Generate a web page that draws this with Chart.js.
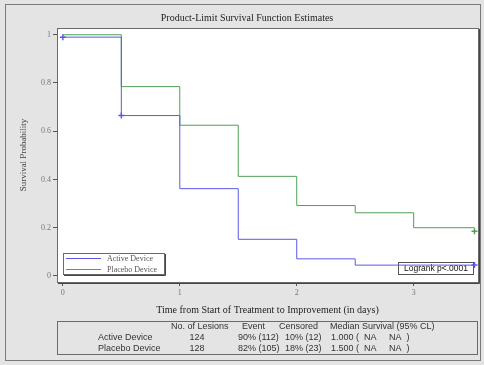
<!DOCTYPE html>
<html>
<head>
<meta charset="utf-8">
<script src="https://cdn.jsdelivr.net/npm/chart.js@4/dist/chart.umd.min.js"></script>
<style>
  html, body { margin: 0; padding: 0; background: #e4e4e4; }
  #wrap { width: 484px; height: 365px; }
</style>
</head>
<body>
<div id="wrap"><canvas id="km" width="484" height="365"></canvas></div>
<script>
// données
var groupNames = ['Active Device', 'Placebo Device'];
var activeTimes = [0, 0.5, 1, 1.5, 2, 2.5, 3.52];
var activeSurv = [0.99, 0.665, 0.362, 0.152, 0.071, 0.045, 0.045];
var placeboTimes = [0, 0.5, 1, 1.5, 2, 2.5, 3, 3.52];
var placeboSurv = [1.0, 0.785, 0.625, 0.413, 0.292, 0.262, 0.2, 0.2];
var activeCensT = [0, 0.5, 3.52];
var activeCensS = [0.99, 0.665, 0.045];
var placeboCensT = [3.52];
var placeboCensS = [0.185];
var xTicks = [0, 1, 2, 3];
var yTicks = [0, 0.2, 0.4, 0.6, 0.8, 1];

var tableHeader = ['No. of Lesions', 'Event', 'Censored', 'Median Survival (95% CL)'];
var lesions = ['124', '128'];
var events = ['90% (112)', '82% (105)'];
var censored = ['10% (12)', '18% (23)'];
var medians = ['1.000 (  NA     NA  )', '1.500 (  NA     NA  )'];

var blue = '#5a5ae6';
var green = '#4f9f55';

function pts(xs, ys) {
    return xs.map(function (x, i) { return { x: x, y: ys[i] }; });
}

var serif = '"Liberation Serif", "DejaVu Serif", serif';
var sans = '"Liberation Sans", Arial, sans-serif';

// fond gris, cadres, légende, tableau
var decor = {
    id: 'decor',
    beforeDraw: function (chart) {
        var c = chart.ctx;
        c.save();
        c.fillStyle = '#e4e4e4';
        c.fillRect(0, 0, chart.width, chart.height);
        c.strokeStyle = '#7a7a7a';
        c.lineWidth = 1;
        c.strokeRect(5.5, 4.5, 475, 356);
        var a = chart.chartArea;
        c.fillStyle = '#ffffff';
        c.fillRect(a.left, a.top, a.right - a.left, a.bottom - a.top);
        c.restore();
    },
    beforeDatasetsDraw: function (chart) {
        var c = chart.ctx;
        c.save();
        // logrank (derrière les courbes)
        c.fillStyle = '#ffffff';
        c.fillRect(398, 262, 75, 12);
        c.strokeStyle = '#555';
        c.lineWidth = 1;
        c.strokeRect(398.5, 262.5, 75, 12);
        c.fillStyle = '#111';
        c.font = '8.5px ' + sans;
        c.textAlign = 'center';
        c.textBaseline = 'middle';
        c.fillText('Logrank p<.0001', 436, 269);
        c.restore();
    },
    afterDraw: function (chart) {
        var c = chart.ctx;
        var a = chart.chartArea;
        c.save();
        // cadre du graphique
        c.strokeStyle = '#6a6a6a';
        c.lineWidth = 1;
        c.strokeRect(a.left + 0.5, a.top + 0.5, a.right - a.left, a.bottom - a.top);
        c.strokeStyle = '#444';
        c.beginPath();
        c.moveTo(a.right + 1.5, a.top + 1);
        c.lineTo(a.right + 1.5, a.bottom + 1.5);
        c.lineTo(a.left + 1, a.bottom + 1.5);
        c.stroke();

        // titre
        c.fillStyle = '#222';
        c.font = '10px ' + serif;
        c.textAlign = 'center';
        c.textBaseline = 'middle';
        c.fillText('Product-Limit Survival Function Estimates', 247, 18);

        // légende
        c.fillStyle = '#ffffff';
        c.fillRect(63, 253, 101, 21);
        c.strokeStyle = '#6a6a6a';
        c.strokeRect(63.5, 253.5, 101, 21);
        c.strokeStyle = '#444';
        c.beginPath();
        c.moveTo(165.5, 254);
        c.lineTo(165.5, 275.5);
        c.lineTo(64, 275.5);
        c.stroke();
        var cols = [blue, green];
        c.font = '8px ' + serif;
        c.textAlign = 'left';
        for (var i = 0; i < groupNames.length; i++) {
            var yy = 258.5 + i * 11;
            c.strokeStyle = cols[i];
            c.beginPath();
            c.moveTo(66, yy);
            c.lineTo(101, yy);
            c.stroke();
            c.fillStyle = '#555';
            c.fillText(groupNames[i], 107, yy);
        }

        // tableau
        c.strokeStyle = '#6a6a6a';
        c.strokeRect(57.5, 321.5, 420, 33);
        c.font = '9px ' + sans;
        c.fillStyle = '#333';
        c.textAlign = 'left';
        var hx = [171, 242, 279, 330];
        tableHeader.forEach(function (h, k) { c.fillText(h, hx[k], 327); });
        for (var r = 0; r < groupNames.length; r++) {
            var ry = 338 + r * 10.5;
            c.fillText(groupNames[r], 98, ry);
            c.textAlign = 'center';
            c.fillText(lesions[r], 197, ry);
            c.textAlign = 'left';
            c.fillText(events[r], 238, ry);
            c.fillText(censored[r], 285, ry);
            c.fillText(medians[r], 331, ry);
        }
        c.restore();
    }
};

var ctx = document.getElementById('km').getContext('2d');
var myChart = new Chart(ctx, {
    type: 'line',
    data: {
        datasets: [{
            label: groupNames[0],
            data: pts(activeTimes, activeSurv),
            borderColor: blue,
            borderWidth: 1,
            stepped: true,
            pointRadius: 0,
            fill: false
        }, {
            label: groupNames[1],
            data: pts(placeboTimes, placeboSurv),
            borderColor: green,
            borderWidth: 1,
            stepped: true,
            pointRadius: 0,
            fill: false
        }, {
            label: 'cens1',
            data: pts(activeCensT, activeCensS),
            showLine: false,
            pointStyle: 'cross',
            pointRadius: 3,
            borderColor: blue,
            borderWidth: 1.5
        }, {
            label: 'cens2',
            data: pts(placeboCensT, placeboCensS),
            showLine: false,
            pointStyle: 'cross',
            pointRadius: 3,
            borderColor: green,
            borderWidth: 1.5
        }]
    },
    options: {
        responsive: false,
        animation: false,
        layout: { padding: { left: 0, top: 28, right: 6, bottom: 49 } },
        plugins: {
            legend: { display: false },
            title: { display: false },
            tooltip: { enabled: false }
        },
        scales: {
            x: {
                type: 'linear',
                min: -0.05,
                max: 3.55,
                afterBuildTicks: function (s) { s.ticks = xTicks.map(function (v) { return { value: v }; }); },
                afterFit: function (s) { s.height = 34; },
                grid: { display: true, drawOnChartArea: false, drawTicks: true, tickLength: 4, color: '#555' },
                border: { display: false },
                ticks: { color: '#777', font: { family: serif, size: 8 }, padding: 2, maxRotation: 0 },
                title: {
                    display: true,
                    text: 'Time from Start of Treatment to Improvement (in days)',
                    color: '#222',
                    font: { family: serif, size: 10 },
                    padding: 0
                }
            },
            y: {
                min: -0.025,
                max: 1.028,
                afterBuildTicks: function (s) { s.ticks = yTicks.map(function (v) { return { value: v }; }); },
                afterFit: function (s) { s.width = 57; },
                grid: { display: true, drawOnChartArea: false, drawTicks: true, tickLength: 4, color: '#555' },
                border: { display: false },
                ticks: {
                    color: '#777',
                    font: { family: serif, size: 8 },
                    padding: 2,
                    callback: function (v) { return String(Math.round(v * 10) / 10); }
                },
                title: {
                    display: true,
                    text: 'Survival Probability',
                    color: '#444',
                    font: { family: serif, size: 9 },
                    padding: { top: 18, bottom: 0 }
                }
            }
        }
    },
    plugins: [decor]
});
</script>
</body>
</html>
